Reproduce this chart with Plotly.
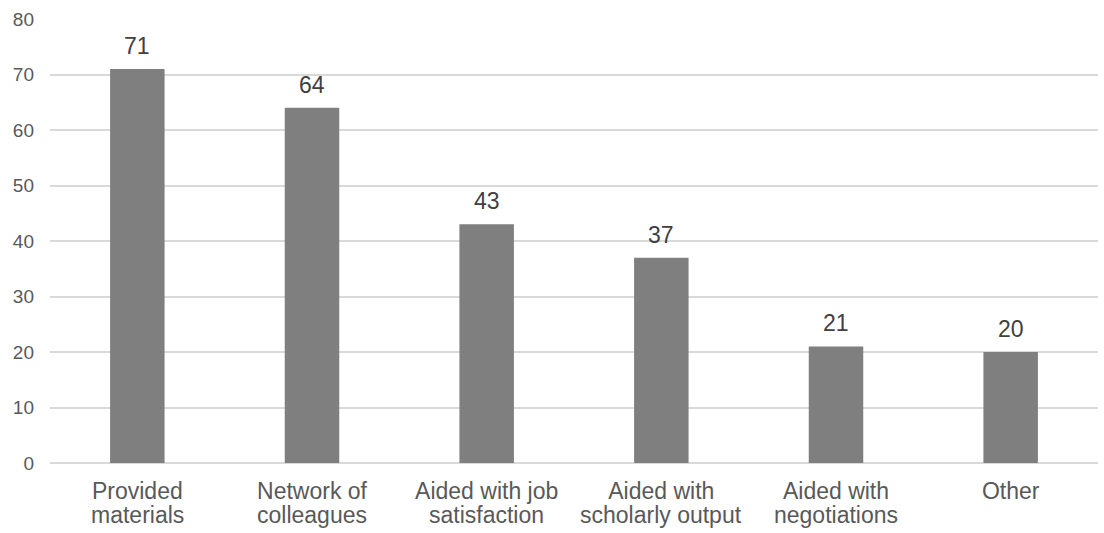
import plotly.graph_objects as go

categories = ["Provided materials", "Network of colleagues", "Aided with job satisfaction",
              "Aided with scholarly output", "Aided with negotiations", "Other"]
label_line1 = ["Provided", "Network of", "Aided with job", "Aided with", "Aided with", "Other"]
label_line2 = ["materials", "colleagues", "satisfaction", "scholarly output", "negotiations", ""]
values = [71, 64, 43, 37, 21, 20]
y_ticks = [0, 10, 20, 30, 40, 50, 60, 70, 80]

FONT = "Liberation Sans, Arial, Helvetica"

fig = go.Figure()
fig.add_trace(go.Bar(
    x=categories, y=values,
    marker=dict(color="#7f7f7f", line=dict(width=0)),
    width=0.312,
    cliponaxis=False,
))

annotations = []
for c, v in zip(categories, values):
    annotations.append(dict(x=c, y=v, xref="x", yref="y", text=str(v), showarrow=False,
                            yanchor="bottom", yshift=8,
                            font=dict(size=23, color="#404040", family=FONT)))
for c, l2 in zip(categories, label_line2):
    if l2:
        annotations.append(dict(x=c, y=0, xref="x", yref="y", text=l2, showarrow=False,
                                yanchor="top", yshift=-37,
                                font=dict(size=23, color="#595959", family=FONT)))

fig.update_layout(
    width=1104, height=533,
    margin=dict(l=50, r=6, t=19, b=70),
    paper_bgcolor="white", plot_bgcolor="white",
    font=dict(family=FONT, color="#595959"),
    showlegend=False,
    annotations=annotations,
    xaxis=dict(showgrid=False, showline=False, ticks="",
               tickmode="array", tickvals=categories, ticktext=label_line1,
               tickfont=dict(size=23, color="#595959"),
               ticklabelstandoff=12),
    yaxis=dict(range=[0, 80], tickvals=y_ticks, showgrid=True, gridcolor="#d9d9d9", gridwidth=1.5,
               zeroline=True, zerolinecolor="#d9d9d9", zerolinewidth=1.5,
               tickfont=dict(size=19, color="#595959"), ticks="", ticklabelstandoff=15,
               showline=False),
)
fig.write_html("out.html")
